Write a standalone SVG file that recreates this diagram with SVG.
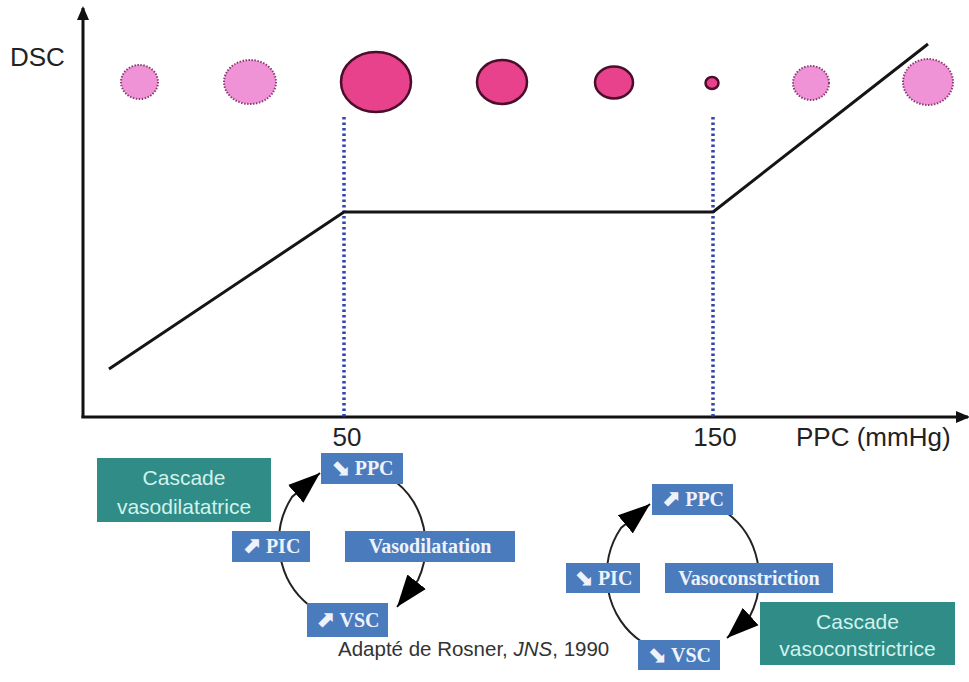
<svg xmlns="http://www.w3.org/2000/svg" width="969" height="682" viewBox="0 0 969 682">
<defs>
<style>
.ax{stroke:#111;stroke-width:3;fill:none}
.curve{stroke:#151515;stroke-width:3;fill:none;stroke-linejoin:round}
.dot{stroke:#3343b0;stroke-width:3.5;stroke-dasharray:2.5 3;fill:none}
.light{fill:#f093d6;stroke:#8c3a74;stroke-width:2;stroke-dasharray:1.5 1.5}
.dark{fill:#e8428c;stroke:#4a0e2a;stroke-width:2.5}
.lbl{font-family:"Liberation Sans",Arial,sans-serif;font-size:26px;fill:#222}
.box{fill:#4a7bbd}
.bt{font-family:"Liberation Serif","Times New Roman",serif;font-weight:bold;font-size:20px;fill:#eef3fb;text-anchor:middle}
.arr{font-family:"DejaVu Sans",sans-serif;font-weight:bold;font-size:23px}
.teal{fill:#2f8c86}
.tt{font-family:"Liberation Sans",Arial,sans-serif;font-size:21px;fill:#d2f2ee;text-anchor:middle}
.cyc{stroke:#222;stroke-width:2;fill:none}
.cite{font-family:"Liberation Sans",Arial,sans-serif;font-size:20.5px;fill:#333}
</style>
<marker id="ah" markerUnits="userSpaceOnUse" markerWidth="32" markerHeight="24" viewBox="0 0 30 22" refX="30" refY="11" orient="auto">
<path d="M0,0 L30,11 L0,22 z" fill="#000"/>
</marker>
<marker id="axh" markerUnits="userSpaceOnUse" markerWidth="14" markerHeight="12" viewBox="0 0 14 12" refX="12" refY="6" orient="auto">
<path d="M0,0 L14,6 L0,12 z" fill="#111"/>
</marker>
</defs>
<rect width="969" height="682" fill="#fff"/>

<g id="axes">
<line class="ax" x1="83" y1="418" x2="83" y2="8" marker-end="url(#axh)"/>
<line class="ax" x1="81.5" y1="417" x2="968" y2="417" marker-end="url(#axh)"/>
<text class="lbl" x="10" y="66" font-size="25">DSC</text>
<text class="lbl" x="347" y="446" text-anchor="middle">50</text>
<text class="lbl" x="715" y="446" text-anchor="middle">150</text>
<text class="lbl" x="796" y="446">PPC (mmHg)</text>
</g>

<g id="guides">
<line class="dot" x1="344" y1="117" x2="344" y2="417"/>
<line class="dot" x1="713" y1="117" x2="713" y2="417"/>
</g>

<g id="curve">
<polyline class="curve" points="109,369 344,212 713,212 928,44"/>
</g>

<g id="vessels">
<ellipse class="light" cx="139.5" cy="82" rx="18.5" ry="17"/>
<ellipse class="light" cx="250" cy="82" rx="26" ry="22"/>
<ellipse class="dark" cx="376" cy="82" rx="35" ry="30"/>
<ellipse class="dark" cx="502" cy="82" rx="25" ry="22"/>
<ellipse class="dark" cx="614" cy="82.5" rx="19" ry="16"/>
<ellipse class="dark" cx="712" cy="83" rx="6.5" ry="6" stroke-width="2"/>
<ellipse class="light" cx="811" cy="83" rx="18" ry="17"/>
<ellipse class="light" cx="928" cy="82" rx="25" ry="23"/>
</g>

<g id="connectors">
<path class="cyc" d="M310,606 A74,79 0 0 1 292,497 L320,473" marker-end="url(#ah)"/>
<path class="cyc" d="M396,482 A74,79 0 0 1 418,580 L397,607" marker-end="url(#ah)"/>
<path class="cyc" d="M642,642 A74,79 0 0 1 621,528 L650,504" marker-end="url(#ah)"/>
<path class="cyc" d="M727,513 A74,79 0 0 1 749,618 L727,638" marker-end="url(#ah)"/>
</g>

<g id="cascade-dil">
<rect class="teal" x="97" y="458" width="174" height="64"/>
<text class="tt" x="184" y="485">Cascade</text>
<text class="tt" x="184" y="514">vasodilatatrice</text>
</g>
<g id="ppc-dil">
<rect class="box" x="321" y="453" width="82" height="31"/>
<text class="bt" x="362" y="475"><tspan class="arr">⬊</tspan> PPC</text>
</g>
<g id="pic-dil">
<rect class="box" x="232" y="531" width="78" height="31"/>
<text class="bt" x="271" y="553"><tspan class="arr">⬈</tspan> PIC</text>
</g>
<g id="vasodilatation">
<rect class="box" x="345" y="531" width="170" height="31"/>
<text class="bt" x="430" y="553">Vasodilatation</text>
</g>
<g id="vsc-dil">
<rect class="box" x="307" y="603" width="81" height="34"/>
<text class="bt" x="347.5" y="627"><tspan class="arr">⬈</tspan> VSC</text>
</g>

<g id="ppc-con">
<rect class="box" x="652" y="484" width="81" height="31"/>
<text class="bt" x="692.5" y="506"><tspan class="arr">⬈</tspan> PPC</text>
</g>
<g id="pic-con">
<rect class="box" x="566" y="563" width="74" height="30"/>
<text class="bt" x="603" y="585"><tspan class="arr">⬊</tspan> PIC</text>
</g>
<g id="vasoconstriction">
<rect class="box" x="665" y="563" width="168" height="30"/>
<text class="bt" x="749" y="585">Vasoconstriction</text>
</g>
<g id="vsc-con">
<rect class="box" x="638" y="640" width="82" height="30"/>
<text class="bt" x="679" y="662"><tspan class="arr">⬊</tspan> VSC</text>
</g>
<g id="cascade-con">
<rect class="teal" x="760" y="602" width="195" height="63"/>
<text class="tt" x="857.5" y="629">Cascade</text>
<text class="tt" x="857.5" y="656">vasoconstrictrice</text>
</g>

<g id="citation">
<text class="cite" x="338" y="656">Adapté de Rosner, <tspan font-style="italic">JNS</tspan>, 1990</text>
</g>
</svg>
